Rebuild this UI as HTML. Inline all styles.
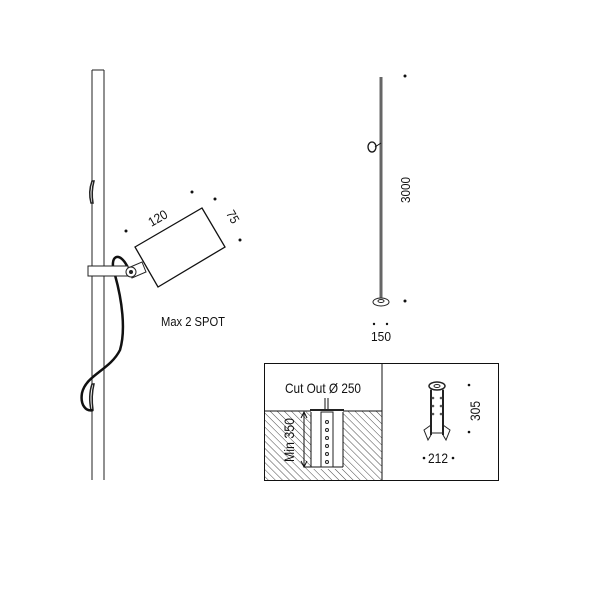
<!DOCTYPE html>
<html><head><style>body{margin:0;background:#fff}svg{display:block}text{font-family:"Liberation Sans",sans-serif;fill:#111}</style></head><body>
<svg width="600" height="600" viewBox="0 0 600 600" xmlns="http://www.w3.org/2000/svg">
<defs>
<pattern id="h" width="5" height="5" patternUnits="userSpaceOnUse" patternTransform="rotate(-45)">
<line x1="0" y1="0" x2="0" y2="5" stroke="#333" stroke-width="0.9"/></pattern>
</defs>
<!-- left pole -->
<line x1="92" y1="70" x2="92" y2="480" stroke="#222" stroke-width="1"/>
<line x1="104" y1="70" x2="104" y2="480" stroke="#222" stroke-width="1"/>
<line x1="92" y1="70" x2="104" y2="70" stroke="#222"/>
<path d="M92 181 Q88 192 91 203 L93 203 Q91 192 94 181 Z" fill="#fff" stroke="#222" stroke-width="1.5"/>
<path d="M92 384 Q88 396 91 410 L93 410 Q91 396 94 384 Z" fill="#fff" stroke="#222" stroke-width="1.5"/>
<!-- cable -->
<path d="M128 268 C 120 250, 108 255, 115 275 C 122 300, 126 330, 120 350 C 110 370, 86 375, 82 393 C 80 405, 86 412, 93 410" stroke="#111" stroke-width="2.5" fill="none"/>
<!-- clamp -->
<rect x="88" y="266" width="40" height="10" fill="#fff" stroke="#222"/>
<path d="M128 268 L142 262 L146 272 L132 278 Z" fill="#fff" stroke="#222"/>
<circle cx="131" cy="272" r="5" fill="#fff" stroke="#222"/>
<circle cx="131" cy="272" r="2" fill="#222"/>
<!-- lamp head -->
<polygon points="135,247 202,208 225,247 158,287" fill="#fff" stroke="#111" stroke-width="1.3"/>
<circle cx="126" cy="231" r="1.5" fill="#111"/><circle cx="192" cy="192" r="1.5" fill="#111"/>
<circle cx="215" cy="199" r="1.5" fill="#111"/><circle cx="240" cy="240" r="1.5" fill="#111"/>
<text x="160" y="222" font-size="13" transform="rotate(-30 160 222)" text-anchor="middle" textLength="20" lengthAdjust="spacingAndGlyphs">120</text>
<text x="229" y="219" font-size="13" transform="rotate(60 229 219)" text-anchor="middle" textLength="13" lengthAdjust="spacingAndGlyphs">75</text>
<text x="193" y="326" font-size="13" text-anchor="middle" textLength="64" lengthAdjust="spacingAndGlyphs">Max 2 SPOT</text>
<!-- right pole -->
<line x1="381" y1="77" x2="381" y2="298" stroke="#666" stroke-width="3"/>
<ellipse cx="381" cy="302" rx="8" ry="4" fill="#fff" stroke="#222"/>
<ellipse cx="381" cy="301" rx="3" ry="1.5" fill="none" stroke="#222"/>
<ellipse cx="372" cy="147" rx="4" ry="5" fill="#fff" stroke="#111" stroke-width="1.3"/>
<line x1="375" y1="147" x2="381" y2="143" stroke="#111"/>
<circle cx="405" cy="76" r="1.5" fill="#111"/><circle cx="405" cy="301" r="1.5" fill="#111"/>
<circle cx="374" cy="324" r="1.2" fill="#111"/><circle cx="387" cy="324" r="1.2" fill="#111"/>
<text x="410" y="190" font-size="13" transform="rotate(-90 410 190)" text-anchor="middle" textLength="26" lengthAdjust="spacingAndGlyphs">3000</text>
<text x="381" y="341" font-size="13" text-anchor="middle" textLength="20" lengthAdjust="spacingAndGlyphs">150</text>
<!-- box -->
<rect x="264.5" y="363.5" width="234" height="117" fill="none" stroke="#111"/>
<line x1="382" y1="363" x2="382" y2="481" stroke="#111"/>
<rect x="265" y="411" width="117" height="69" fill="url(#h)"/>
<line x1="265" y1="411" x2="382" y2="411" stroke="#111"/>
<rect x="311" y="411" width="32" height="58" fill="#fff"/>
<rect x="310" y="409" width="34" height="2" fill="#222"/>
<line x1="311" y1="412" x2="311" y2="467" stroke="#111"/>
<line x1="343" y1="412" x2="343" y2="467" stroke="#111"/>
<line x1="304" y1="467" x2="322" y2="467" stroke="#111"/>
<line x1="333" y1="467" x2="343" y2="467" stroke="#111"/>
<rect x="321" y="412" width="12" height="55" fill="#fff" stroke="#222"/>
<g fill="none" stroke="#222"><circle cx="327" cy="422" r="1.5"/><circle cx="327" cy="430" r="1.5"/><circle cx="327" cy="438" r="1.5"/><circle cx="327" cy="446" r="1.5"/><circle cx="327" cy="454" r="1.5"/><circle cx="327" cy="462" r="1.5"/></g>
<line x1="325" y1="398" x2="325" y2="409" stroke="#111"/><line x1="328" y1="398" x2="328" y2="409" stroke="#111"/>
<line x1="304" y1="413" x2="304" y2="466" stroke="#111"/>
<path d="M301 418 L304 412 L307 418 M301 461 L304 467 L307 461" fill="none" stroke="#111"/>
<text x="323" y="393" font-size="14" text-anchor="middle" textLength="76" lengthAdjust="spacingAndGlyphs">Cut Out Ø 250</text>
<text x="294" y="440" font-size="14" transform="rotate(-90 294 440)" text-anchor="middle" textLength="44" lengthAdjust="spacingAndGlyphs">Min 350</text>
<!-- anchor -->
<rect x="431" y="387" width="12" height="46" fill="#fff" stroke="#222"/>
<ellipse cx="437" cy="386" rx="8" ry="4" fill="#fff" stroke="#222" stroke-width="1.5"/>
<ellipse cx="437" cy="386" rx="3" ry="1.5" fill="#fff" stroke="#222"/>
<line x1="431" y1="390" x2="431" y2="435" stroke="#222" stroke-width="2"/><line x1="443" y1="390" x2="443" y2="435" stroke="#222" stroke-width="2"/>
<g fill="#555"><circle cx="433" cy="398" r="1.3"/><circle cx="433" cy="406" r="1.3"/><circle cx="433" cy="414" r="1.3"/><circle cx="441" cy="398" r="1.3"/><circle cx="441" cy="406" r="1.3"/><circle cx="441" cy="414" r="1.3"/></g>
<path d="M431 425 L424 430 L428 440 L431 435 M443 425 L450 430 L446 440 L443 435" fill="none" stroke="#222"/>
<circle cx="469" cy="385" r="1.3" fill="#111"/><circle cx="469" cy="432" r="1.3" fill="#111"/>
<circle cx="424" cy="458" r="1.3" fill="#111"/><circle cx="453" cy="458" r="1.3" fill="#111"/>
<text x="480" y="411" font-size="14" transform="rotate(-90 480 411)" text-anchor="middle" textLength="20" lengthAdjust="spacingAndGlyphs">305</text>
<text x="438" y="463" font-size="14" text-anchor="middle" textLength="20" lengthAdjust="spacingAndGlyphs">212</text>
</svg>
</body></html>
